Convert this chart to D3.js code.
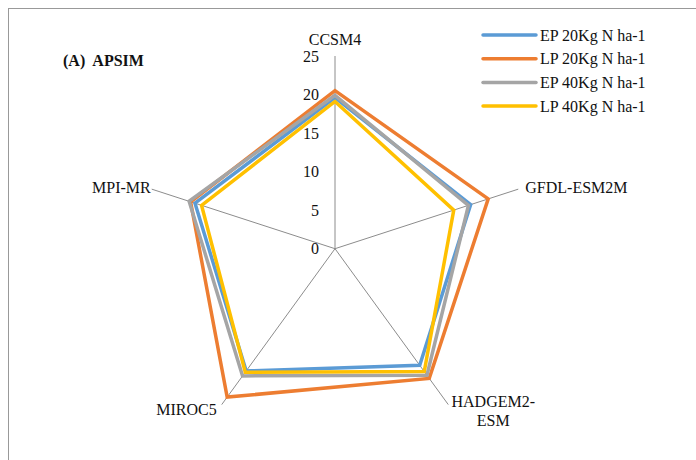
<!DOCTYPE html>
<html>
<head>
<meta charset="utf-8">
<script src="https://cdn.jsdelivr.net/npm/d3@7"></script>
<style>
  html, body { margin: 0; padding: 0; background: #fff; }
  svg { display: block; }
</style>
</head>
<body>
<script>
// Radar chart: yield change under climate models (APSIM)
const categories = ["CCSM4", "GFDL-ESM2M", "HADGEM2-ESM", "MIROC5", "MPI-MR"];
const seriesNames = ["EP 20Kg N ha-1", "LP 20Kg N ha-1", "EP 40Kg N ha-1", "LP 40Kg N ha-1"];
const ep20 = [19.6, 18.5, 18.7, 19.6, 19.1];
const lp20 = [20.5, 20.9, 20.8, 23.8, 19.7];
const ep40 = [19.9, 18.2, 20.3, 20.4, 19.9];
const lp40 = [19.1, 16.2, 19.7, 19.8, 18.2];
const tickValues = [0, 5, 10, 15, 20, 25];
const colors = ["#5B9BD5", "#ED7D31", "#A5A5A5", "#FFC000"];

const FONT = "'Liberation Serif', 'Times New Roman', 'DejaVu Serif', serif";
const W = 696, H = 460;
const cx = 335, cy = 248.7, R = 192.7;

const svg = d3.select("body").append("svg").attr("width", W).attr("height", H)
  .attr("font-family", FONT);

// outer frame
svg.append("rect").attr("x", 8.5).attr("y", 8.5).attr("width", W).attr("height", H)
  .attr("fill", "none").attr("stroke", "#999").attr("stroke-width", 1);

const r = d3.scaleLinear().domain([0, 25]).range([0, R]);
const angle = d3.scalePoint().domain(categories).range([0, 2 * Math.PI * (categories.length - 1) / categories.length]);

const g = svg.append("g").attr("transform", `translate(${cx},${cy})`);

// spokes
categories.forEach(c => {
  const a = angle(c);
  g.append("line")
    .attr("x1", 0).attr("y1", 0)
    .attr("x2", r(25) * Math.sin(a)).attr("y2", -r(25) * Math.cos(a))
    .attr("stroke", "#8c8c8c").attr("stroke-width", 1);
});

// radial tick labels
tickValues.forEach(v => {
  g.append("text")
    .attr("x", -16).attr("y", -r(v))
    .attr("dy", "0.35em")
    .attr("text-anchor", "end")
    .attr("font-size", 16)
    .attr("fill", "#111")
    .text(v);
});

// category labels
const labelPos = {
  "CCSM4": { dx: 0, dy: -17, anchor: "middle" },
  "GFDL-ESM2M": { dx: 7, dy: -2, anchor: "start" },
  "HADGEM2-ESM": { dx: 45, dy: -3, anchor: "middle" },
  "MIROC5": { dx: -5, dy: 5, anchor: "end" },
  "MPI-MR": { dx: -1, dy: -2, anchor: "end" }
};
categories.forEach(c => {
  const a = angle(c);
  const x = r(25) * Math.sin(a), y = -r(25) * Math.cos(a);
  const p = labelPos[c];
  const t = g.append("text")
    .attr("x", x + p.dx).attr("y", y + p.dy)
    .attr("text-anchor", p.anchor)
    .attr("dy", "0.35em")
    .attr("font-size", 16)
    .attr("fill", "#111");
  if (c === "HADGEM2-ESM") {
    t.append("tspan").attr("x", x + p.dx).text("HADGEM2-");
    t.append("tspan").attr("x", x + p.dx).attr("dy", "1.15em").text("ESM");
  } else {
    t.text(c);
  }
});

// series polygons
const series = [ep20, lp20, ep40, lp40];
const line = d3.lineRadial()
  .angle((d, i) => angle(categories[i]))
  .radius(d => r(d))
  .curve(d3.curveLinearClosed);

series.forEach((vals, i) => {
  g.append("path")
    .attr("d", line(vals))
    .attr("fill", "none")
    .attr("stroke", colors[i])
    .attr("stroke-width", 3.5)
    .attr("stroke-linejoin", "miter");
});

// title
svg.append("text")
  .attr("x", 63).attr("y", 66)
  .attr("font-size", 16).attr("font-weight", "bold")
  .attr("fill", "#111")
  .attr("xml:space", "preserve")
  .style("white-space", "pre")
  .text("(A)  APSIM");

// legend
const lg = svg.append("g");
seriesNames.forEach((name, i) => {
  const y = 35 + i * 23.7;
  lg.append("line")
    .attr("x1", 483).attr("x2", 536).attr("y1", y).attr("y2", y)
    .attr("stroke", colors[i]).attr("stroke-width", 3.5)
    .attr("stroke-linecap", "round");
  lg.append("text")
    .attr("x", 540).attr("y", y).attr("dy", "0.35em")
    .attr("font-size", 16)
    .attr("fill", "#111")
    .text(name);
});
</script>
</body>
</html>
